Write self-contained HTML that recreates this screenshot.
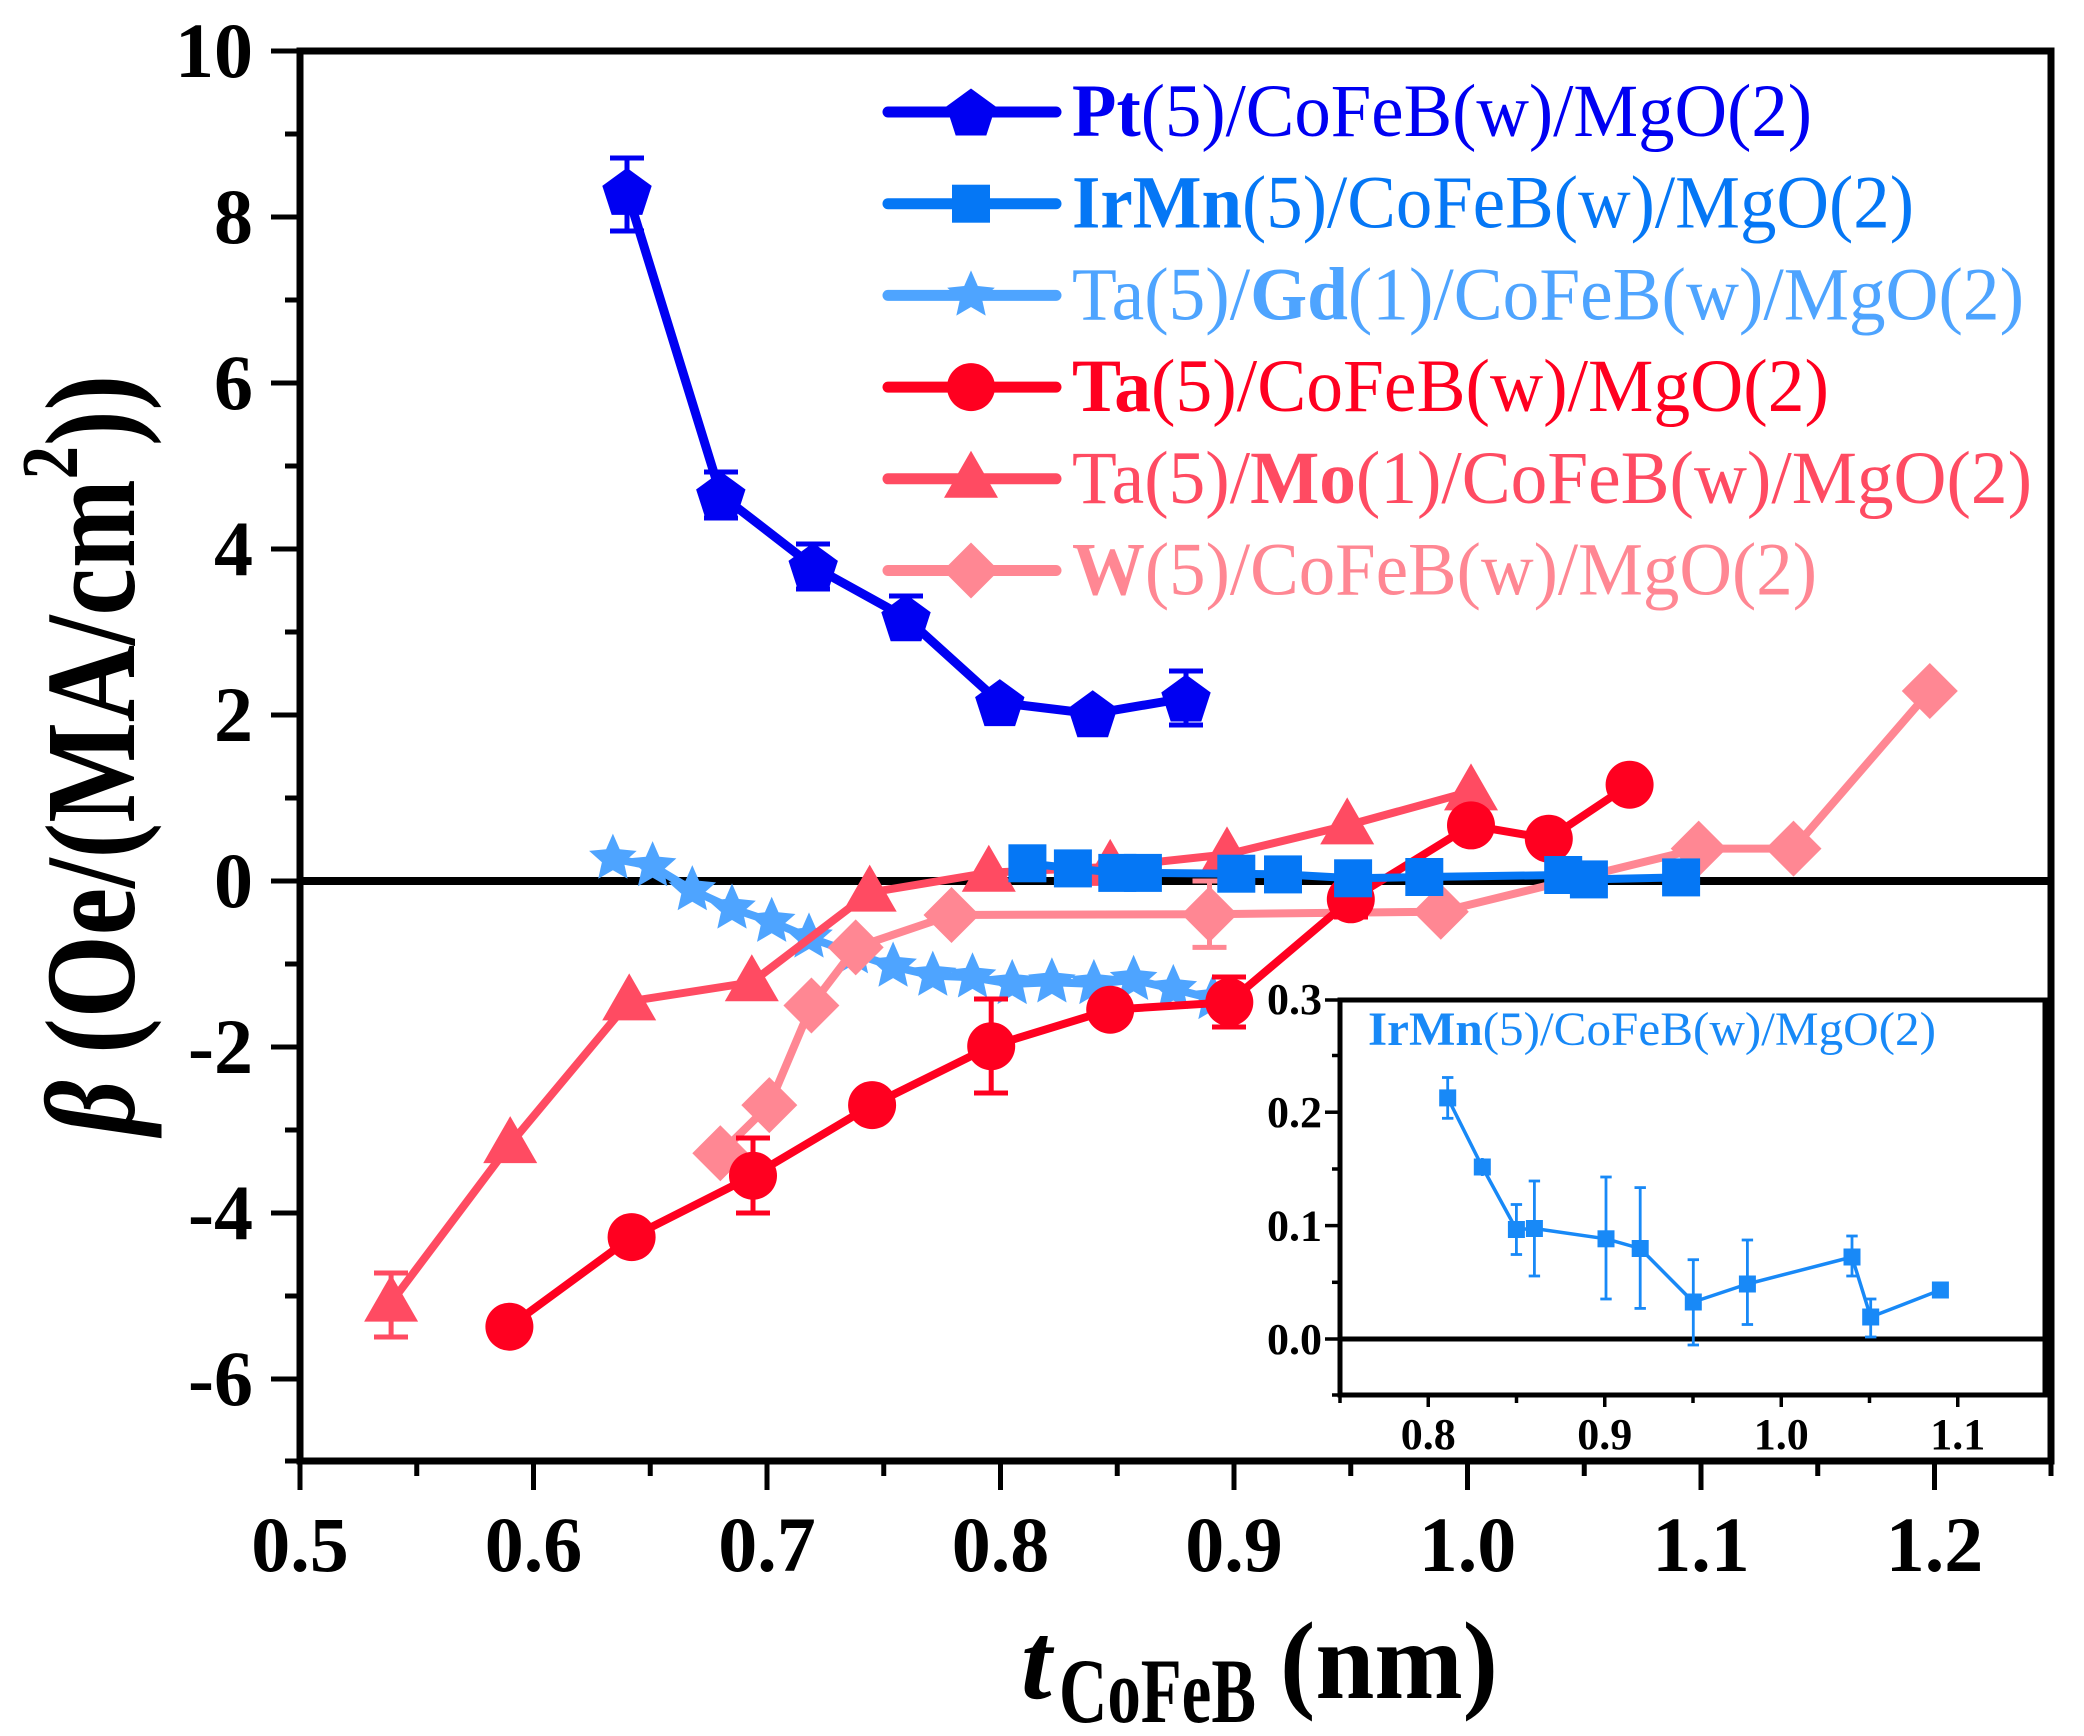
<!DOCTYPE html>
<html>
<head>
<meta charset="utf-8">
<style>
html,body{margin:0;padding:0;background:#fff;}
svg{display:block;}
text{font-family:"Liberation Serif","Times New Roman",serif;}
</style>
</head>
<body>
<svg width="2084" height="1736" viewBox="0 0 2084 1736" xmlns="http://www.w3.org/2000/svg">
<defs>
  <path id="pent" d="M0,-23.5 L24.7,-5.5 L15.3,23.5 L-15.3,23.5 L-24.7,-5.5 Z"/>
  <path id="star" d="M0,-25 L6.8,-9.4 L23.8,-7.7 L11,3.6 L14.7,20.2 L0,11.6 L-14.7,20.2 L-11,3.6 L-23.8,-7.7 L-6.8,-9.4 Z"/>
  <path id="tri" d="M0,-28 L27,19 L-27,19 Z"/>
  <path id="dia" d="M0,-28 L28,0 L0,28 L-28,0 Z"/>
  <rect id="sq" x="-19" y="-19" width="38" height="38"/>
  <circle id="circ" cx="0" cy="0" r="24"/>
  <rect id="sqs" x="-8.5" y="-8.5" width="17" height="17"/>
</defs>
<rect x="0" y="0" width="2084" height="1736" fill="#fff"/>

<!-- zero line -->
<line x1="300" y1="881" x2="2051" y2="881" stroke="#000" stroke-width="8"/>

<!-- ===== Series ===== -->
<!-- Gd stars -->
<g fill="#4ea4ff" stroke="#4ea4ff">
  <polyline fill="none" stroke-width="8" stroke-linejoin="round" points="612.9,858.6 652.6,866.1 692.3,890.1 732,908.4 771.7,921.7 809,937.4 853.4,953.2 893.1,966.5 932.8,975.6 972.5,977.3 1012.2,983.9 1051.9,982.3 1093.9,983.9 1133.6,979.8 1173.3,988.9 1213,998.9"/>
  <g stroke="none">
    <use href="#star" x="612.9" y="858.6"/><use href="#star" x="652.6" y="866.1"/><use href="#star" x="692.3" y="890.1"/><use href="#star" x="732" y="908.4"/>
    <use href="#star" x="771.7" y="921.7"/><use href="#star" x="809" y="937.4"/><use href="#star" x="853.4" y="953.2"/><use href="#star" x="893.1" y="966.5"/>
    <use href="#star" x="932.8" y="975.6"/><use href="#star" x="972.5" y="977.3"/><use href="#star" x="1012.2" y="983.9"/><use href="#star" x="1051.9" y="982.3"/>
    <use href="#star" x="1093.9" y="983.9"/><use href="#star" x="1133.6" y="979.8"/><use href="#star" x="1173.3" y="988.9"/><use href="#star" x="1213" y="998.9"/>
  </g>
</g>

<!-- Mo triangles -->
<g fill="#ff4b62" stroke="#ff4b62">
  <polyline fill="none" stroke-width="8" stroke-linejoin="round" points="391.1,1302.6 510.2,1144.1 629.2,1001.4 751.8,982.3 869.7,892.6 988.8,872.7 1110.2,866.9 1227,854.4 1347.2,825.4 1471,791.4"/>
  <g stroke-width="5" fill="none">
    <line x1="391.1" y1="1273" x2="391.1" y2="1337"/><line x1="374" y1="1273" x2="408" y2="1273"/><line x1="374" y1="1337" x2="408" y2="1337"/>
  </g>
  <g stroke="none">
    <use href="#tri" x="391.1" y="1302.6"/><use href="#tri" x="510.2" y="1144.1"/><use href="#tri" x="629.2" y="1001.4"/><use href="#tri" x="751.8" y="982.3"/>
    <use href="#tri" x="869.7" y="892.6"/><use href="#tri" x="988.8" y="872.7"/><use href="#tri" x="1110.2" y="866.9"/><use href="#tri" x="1227" y="854.4"/>
    <use href="#tri" x="1347.2" y="825.4"/><use href="#tri" x="1471" y="791.4"/>
  </g>
</g>

<!-- W diamonds -->
<g fill="#ff8793" stroke="#ff8793">
  <polyline fill="none" stroke-width="8" stroke-linejoin="round" points="720.3,1153.2 769.3,1105.1 811.4,1005.5 855.7,947.4 951.5,915 1209.5,914.2 1440.8,911.7 1698.7,848.6 1793.5,848.6 1929.8,691"/>
  <g stroke-width="5" fill="none">
    <line x1="1209.5" y1="881" x2="1209.5" y2="947.4"/><line x1="1192.5" y1="947.4" x2="1226.5" y2="947.4"/><line x1="1192.5" y1="881" x2="1226.5" y2="881"/>
  </g>
  <g stroke="none">
    <use href="#dia" x="720.3" y="1153.2"/><use href="#dia" x="769.3" y="1105.1"/><use href="#dia" x="811.4" y="1005.5"/><use href="#dia" x="855.7" y="947.4"/>
    <use href="#dia" x="951.5" y="915"/><use href="#dia" x="1209.5" y="914.2"/><use href="#dia" x="1440.8" y="911.7"/><use href="#dia" x="1698.7" y="848.6"/>
    <use href="#dia" x="1793.5" y="848.6"/><use href="#dia" x="1929.8" y="691"/>
  </g>
</g>

<!-- Ta circles -->
<g fill="#ff0020" stroke="#ff0020">
  <polyline fill="none" stroke-width="8" stroke-linejoin="round" points="509.4,1326.7 631.6,1237.1 753,1175.7 872.1,1105.1 991.2,1046.2 1110.2,1009.7 1229.3,1002.2 1350.8,899.3 1471,825.4 1548.8,838.7 1629.6,784.7"/>
  <g stroke-width="5" fill="none">
    <line x1="753" y1="1138" x2="753" y2="1213"/><line x1="736" y1="1138" x2="770" y2="1138"/><line x1="736" y1="1213" x2="770" y2="1213"/>
    <line x1="991.2" y1="999" x2="991.2" y2="1093"/><line x1="974" y1="999" x2="1008" y2="999"/><line x1="974" y1="1093" x2="1008" y2="1093"/>
    <line x1="1229.3" y1="977" x2="1229.3" y2="1027"/><line x1="1212" y1="977" x2="1246" y2="977"/><line x1="1212" y1="1027" x2="1246" y2="1027"/>
    <line x1="1350.8" y1="882" x2="1350.8" y2="917"/><line x1="1334" y1="917" x2="1368" y2="917"/>
  </g>
  <g stroke="none">
    <use href="#circ" x="509.4" y="1326.7"/><use href="#circ" x="631.6" y="1237.1"/><use href="#circ" x="753" y="1175.7"/><use href="#circ" x="872.1" y="1105.1"/>
    <use href="#circ" x="991.2" y="1046.2"/><use href="#circ" x="1110.2" y="1009.7"/><use href="#circ" x="1229.3" y="1002.2"/><use href="#circ" x="1350.8" y="899.3"/>
    <use href="#circ" x="1471" y="825.4"/><use href="#circ" x="1548.8" y="838.7"/><use href="#circ" x="1629.6" y="784.7"/>
  </g>
</g>

<!-- IrMn squares -->
<g fill="#0577f5" stroke="#0577f5">
  <polyline fill="none" stroke-width="8" stroke-linejoin="round" points="1027.4,863.3 1072.9,868.4 1117.3,872.9 1142.9,872.9 1236.3,873.7 1283,874.4 1353.1,878.3 1424.3,877 1563.2,875 1588.9,879.4 1681.1,877.4"/>
  <g stroke="none">
    <use href="#sq" x="1027.4" y="863.3"/><use href="#sq" x="1072.9" y="868.4"/><use href="#sq" x="1117.3" y="872.9"/><use href="#sq" x="1142.9" y="872.9"/>
    <use href="#sq" x="1236.3" y="873.7"/><use href="#sq" x="1283" y="874.4"/><use href="#sq" x="1353.1" y="878.3"/><use href="#sq" x="1424.3" y="877"/>
    <use href="#sq" x="1563.2" y="875"/><use href="#sq" x="1588.9" y="879.4"/><use href="#sq" x="1681.1" y="877.4"/>
  </g>
</g>

<!-- Pt pentagons -->
<g fill="#0000f2" stroke="#0000f2">
  <polyline fill="none" stroke-width="9" stroke-linejoin="round" points="627,191.4 720.8,495 813.2,566.4 906,617.8 999.8,702.6 1092.7,713.8 1186,698"/>
  <g stroke-width="5" fill="none">
    <line x1="627" y1="158" x2="627" y2="231"/><line x1="610" y1="158" x2="644" y2="158"/><line x1="610" y1="231" x2="644" y2="231"/>
    <line x1="720.8" y1="472" x2="720.8" y2="518"/><line x1="704" y1="472" x2="738" y2="472"/><line x1="704" y1="518" x2="738" y2="518"/>
    <line x1="813.2" y1="544" x2="813.2" y2="589"/><line x1="796" y1="544" x2="830" y2="544"/><line x1="796" y1="589" x2="830" y2="589"/>
    <line x1="906" y1="596" x2="906" y2="640"/><line x1="889" y1="596" x2="923" y2="596"/>
    <line x1="1186" y1="671" x2="1186" y2="725"/><line x1="1169" y1="671" x2="1203" y2="671"/><line x1="1169" y1="725" x2="1203" y2="725"/>
  </g>
  <g stroke="none">
    <use href="#pent" x="627" y="191.4"/><use href="#pent" x="720.8" y="495"/><use href="#pent" x="813.2" y="566.4"/><use href="#pent" x="906" y="617.8"/>
    <use href="#pent" x="999.8" y="702.6"/><use href="#pent" x="1092.7" y="713.8"/><use href="#pent" x="1186" y="698"/>
  </g>
</g>

<!-- ===== Main frame & ticks ===== -->
<rect x="300" y="51" width="1751" height="1410" fill="none" stroke="#000" stroke-width="7"/>
<g stroke="#000" stroke-width="5">
  <!-- y major -->
  <line x1="271" y1="51" x2="300" y2="51"/><line x1="271" y1="217" x2="300" y2="217"/><line x1="271" y1="383" x2="300" y2="383"/>
  <line x1="271" y1="549" x2="300" y2="549"/><line x1="271" y1="715" x2="300" y2="715"/><line x1="271" y1="881" x2="300" y2="881"/>
  <line x1="271" y1="1047" x2="300" y2="1047"/><line x1="271" y1="1213" x2="300" y2="1213"/><line x1="271" y1="1379" x2="300" y2="1379"/>
  <!-- y minor -->
  <line x1="285" y1="134" x2="300" y2="134"/><line x1="285" y1="300" x2="300" y2="300"/><line x1="285" y1="466" x2="300" y2="466"/>
  <line x1="285" y1="632" x2="300" y2="632"/><line x1="285" y1="798" x2="300" y2="798"/><line x1="285" y1="964" x2="300" y2="964"/>
  <line x1="285" y1="1130" x2="300" y2="1130"/><line x1="285" y1="1296" x2="300" y2="1296"/><line x1="285" y1="1461" x2="300" y2="1461"/>
  <!-- x major -->
  <line x1="300" y1="1461" x2="300" y2="1490"/><line x1="533.5" y1="1461" x2="533.5" y2="1490"/><line x1="767" y1="1461" x2="767" y2="1490"/>
  <line x1="1000.5" y1="1461" x2="1000.5" y2="1490"/><line x1="1234" y1="1461" x2="1234" y2="1490"/><line x1="1467.5" y1="1461" x2="1467.5" y2="1490"/>
  <line x1="1701" y1="1461" x2="1701" y2="1490"/><line x1="1934.5" y1="1461" x2="1934.5" y2="1490"/>
  <!-- x minor -->
  <line x1="416.75" y1="1461" x2="416.75" y2="1476"/><line x1="650.25" y1="1461" x2="650.25" y2="1476"/><line x1="883.75" y1="1461" x2="883.75" y2="1476"/>
  <line x1="1117.25" y1="1461" x2="1117.25" y2="1476"/><line x1="1350.75" y1="1461" x2="1350.75" y2="1476"/><line x1="1584.25" y1="1461" x2="1584.25" y2="1476"/>
  <line x1="1817.75" y1="1461" x2="1817.75" y2="1476"/><line x1="2051" y1="1461" x2="2051" y2="1476"/>
</g>

<!-- y tick labels -->
<g font-size="78" font-weight="bold" text-anchor="end" fill="#000">
  <text x="253" y="77">10</text>
  <text x="253" y="243">8</text>
  <text x="253" y="409">6</text>
  <text x="253" y="575">4</text>
  <text x="253" y="741">2</text>
  <text x="253" y="907">0</text>
  <text x="253" y="1073">-2</text>
  <text x="253" y="1239">-4</text>
  <text x="253" y="1405">-6</text>
</g>
<!-- x tick labels -->
<g font-size="78" font-weight="bold" text-anchor="middle" fill="#000">
  <text x="300" y="1571">0.5</text>
  <text x="533.5" y="1571">0.6</text>
  <text x="767" y="1571">0.7</text>
  <text x="1000.5" y="1571">0.8</text>
  <text x="1234" y="1571">0.9</text>
  <text x="1467.5" y="1571">1.0</text>
  <text x="1701" y="1571">1.1</text>
  <text x="1934.5" y="1571">1.2</text>
</g>

<!-- axis titles -->
<text transform="translate(134,1135) rotate(-90)" x="0" y="0" font-size="128" font-weight="bold" fill="#000" textLength="760" lengthAdjust="spacingAndGlyphs"><tspan font-style="italic">β</tspan> (Oe/(MA/cm<tspan font-size="80" dy="-57">2</tspan><tspan dy="57">))</tspan></text>

<text x="1021" y="1698" font-size="110" font-weight="bold" font-style="italic" fill="#000">t</text>
<text x="1059" y="1722" font-size="92" font-weight="bold" fill="#000" textLength="197" lengthAdjust="spacingAndGlyphs">CoFeB</text>
<text x="1280" y="1698" font-size="110" font-weight="bold" fill="#000" textLength="218" lengthAdjust="spacingAndGlyphs">(nm)</text>

<!-- ===== Legend ===== -->
<g stroke-width="11" stroke-linecap="round">
  <line x1="888" y1="112" x2="1056" y2="112" stroke="#0000f2"/>
  <line x1="888" y1="203.7" x2="1056" y2="203.7" stroke="#0577f5"/>
  <line x1="888" y1="295.4" x2="1056" y2="295.4" stroke="#4ea4ff"/>
  <line x1="888" y1="387.1" x2="1056" y2="387.1" stroke="#ff0020"/>
  <line x1="888" y1="478.8" x2="1056" y2="478.8" stroke="#ff4b62"/>
  <line x1="888" y1="570.5" x2="1056" y2="570.5" stroke="#ff8793"/>
</g>
<use href="#pent" x="971" y="112" fill="#0000f2"/>
<use href="#sq" x="971" y="203.7" fill="#0577f5"/>
<use href="#star" x="971" y="295.4" fill="#4ea4ff"/>
<use href="#circ" x="971" y="387.1" fill="#ff0020"/>
<use href="#tri" x="971" y="478.8" fill="#ff4b62"/>
<use href="#dia" x="971" y="570.5" fill="#ff8793"/>

<g font-size="75">
  <text x="1072" y="136" fill="#0000f2" textLength="740" lengthAdjust="spacingAndGlyphs"><tspan font-weight="bold">Pt</tspan>(5)/CoFeB(w)/MgO(2)</text>
  <text x="1072" y="227.7" fill="#0577f5" textLength="842" lengthAdjust="spacingAndGlyphs"><tspan font-weight="bold">IrMn</tspan>(5)/CoFeB(w)/MgO(2)</text>
  <text x="1072" y="319.4" fill="#4ea4ff" textLength="952" lengthAdjust="spacingAndGlyphs">Ta(5)/<tspan font-weight="bold">Gd</tspan>(1)/CoFeB(w)/MgO(2)</text>
  <text x="1072" y="411.1" fill="#ff0020" textLength="757" lengthAdjust="spacingAndGlyphs"><tspan font-weight="bold">Ta</tspan>(5)/CoFeB(w)/MgO(2)</text>
  <text x="1072" y="502.8" fill="#ff4b62" textLength="960" lengthAdjust="spacingAndGlyphs">Ta(5)/<tspan font-weight="bold">Mo</tspan>(1)/CoFeB(w)/MgO(2)</text>
  <text x="1072" y="594.5" fill="#ff8793" textLength="745" lengthAdjust="spacingAndGlyphs"><tspan font-weight="bold">W</tspan>(5)/CoFeB(w)/MgO(2)</text>
</g>

<!-- ===== Inset ===== -->
<rect x="1340" y="1000" width="705" height="395" fill="#fff" stroke="#000" stroke-width="5"/>
<line x1="1340" y1="1339" x2="2045" y2="1339" stroke="#000" stroke-width="5"/>
<g stroke="#000" stroke-width="3.5">
  <line x1="1325" y1="1339" x2="1340" y2="1339"/><line x1="1325" y1="1225.6" x2="1340" y2="1225.6"/>
  <line x1="1325" y1="1112.2" x2="1340" y2="1112.2"/><line x1="1325" y1="1000" x2="1340" y2="1000"/>
  <line x1="1332" y1="1282.3" x2="1340" y2="1282.3"/><line x1="1332" y1="1169" x2="1340" y2="1169"/><line x1="1332" y1="1055.5" x2="1340" y2="1055.5"/>
  <line x1="1332" y1="1395" x2="1340" y2="1395"/>
  <line x1="1428.25" y1="1395" x2="1428.25" y2="1407"/><line x1="1604.75" y1="1395" x2="1604.75" y2="1407"/>
  <line x1="1781.25" y1="1395" x2="1781.25" y2="1407"/><line x1="1957.75" y1="1395" x2="1957.75" y2="1407"/>
  <line x1="1340" y1="1395" x2="1340" y2="1403"/><line x1="1516.5" y1="1395" x2="1516.5" y2="1403"/>
  <line x1="1693" y1="1395" x2="1693" y2="1403"/><line x1="1869.5" y1="1395" x2="1869.5" y2="1403"/>
</g>
<g font-size="44" font-weight="bold" text-anchor="end" fill="#000">
  <text x="1322" y="1354">0.0</text>
  <text x="1322" y="1240.6">0.1</text>
  <text x="1322" y="1127.2">0.2</text>
  <text x="1322" y="1014">0.3</text>
</g>
<g font-size="44" font-weight="bold" text-anchor="middle" fill="#000">
  <text x="1428.25" y="1449">0.8</text>
  <text x="1604.75" y="1449">0.9</text>
  <text x="1781.25" y="1449">1.0</text>
  <text x="1957.75" y="1449">1.1</text>
</g>
<text x="1368" y="1045" font-size="48" fill="#1889f7" textLength="568" lengthAdjust="spacingAndGlyphs"><tspan font-weight="bold">IrMn</tspan>(5)/CoFeB(w)/MgO(2)</text>

<g fill="#1889f7" stroke="#1889f7">
  <polyline fill="none" stroke-width="3.5" stroke-linejoin="round" points="1447.7,1097.9 1482.3,1167 1516.4,1229.5 1534.4,1228.5 1606,1238.8 1640.2,1248.5 1693.3,1302 1747.4,1284 1852,1257 1870.7,1317 1940.4,1290"/>
  <g stroke-width="2.8" fill="none">
    <line x1="1447.7" y1="1077.5" x2="1447.7" y2="1118.3"/><line x1="1442" y1="1077.5" x2="1453.4" y2="1077.5"/><line x1="1442" y1="1118.3" x2="1453.4" y2="1118.3"/>
    <line x1="1482.3" y1="1158" x2="1482.3" y2="1176"/>
    <line x1="1516.4" y1="1204.5" x2="1516.4" y2="1254.5"/><line x1="1510.7" y1="1204.5" x2="1522.1" y2="1204.5"/><line x1="1510.7" y1="1254.5" x2="1522.1" y2="1254.5"/>
    <line x1="1534.4" y1="1181" x2="1534.4" y2="1276"/><line x1="1528.7" y1="1181" x2="1540.1" y2="1181"/><line x1="1528.7" y1="1276" x2="1540.1" y2="1276"/>
    <line x1="1606" y1="1177" x2="1606" y2="1299"/><line x1="1600.3" y1="1177" x2="1611.7" y2="1177"/><line x1="1600.3" y1="1299" x2="1611.7" y2="1299"/>
    <line x1="1640.2" y1="1187.6" x2="1640.2" y2="1308.4"/><line x1="1634.5" y1="1187.6" x2="1645.9" y2="1187.6"/><line x1="1634.5" y1="1308.4" x2="1645.9" y2="1308.4"/>
    <line x1="1693.3" y1="1259.7" x2="1693.3" y2="1345"/><line x1="1687.6" y1="1259.7" x2="1699" y2="1259.7"/><line x1="1687.6" y1="1345" x2="1699" y2="1345"/>
    <line x1="1747.4" y1="1240" x2="1747.4" y2="1324.5"/><line x1="1741.7" y1="1240" x2="1753.1" y2="1240"/><line x1="1741.7" y1="1324.5" x2="1753.1" y2="1324.5"/>
    <line x1="1852" y1="1236" x2="1852" y2="1276"/><line x1="1846.3" y1="1236" x2="1857.7" y2="1236"/><line x1="1846.3" y1="1276" x2="1857.7" y2="1276"/>
    <line x1="1870.7" y1="1299" x2="1870.7" y2="1337"/><line x1="1865" y1="1299" x2="1876.4" y2="1299"/><line x1="1865" y1="1337" x2="1876.4" y2="1337"/>
    <line x1="1940.4" y1="1283" x2="1940.4" y2="1297"/>
  </g>
  <g stroke="none">
    <use href="#sqs" x="1447.7" y="1097.9"/><use href="#sqs" x="1482.3" y="1167"/><use href="#sqs" x="1516.4" y="1229.5"/><use href="#sqs" x="1534.4" y="1228.5"/>
    <use href="#sqs" x="1606" y="1238.8"/><use href="#sqs" x="1640.2" y="1248.5"/><use href="#sqs" x="1693.3" y="1302"/><use href="#sqs" x="1747.4" y="1284"/>
    <use href="#sqs" x="1852" y="1257"/><use href="#sqs" x="1870.7" y="1317"/><use href="#sqs" x="1940.4" y="1290"/>
  </g>
</g>
</svg>
</body>
</html>
